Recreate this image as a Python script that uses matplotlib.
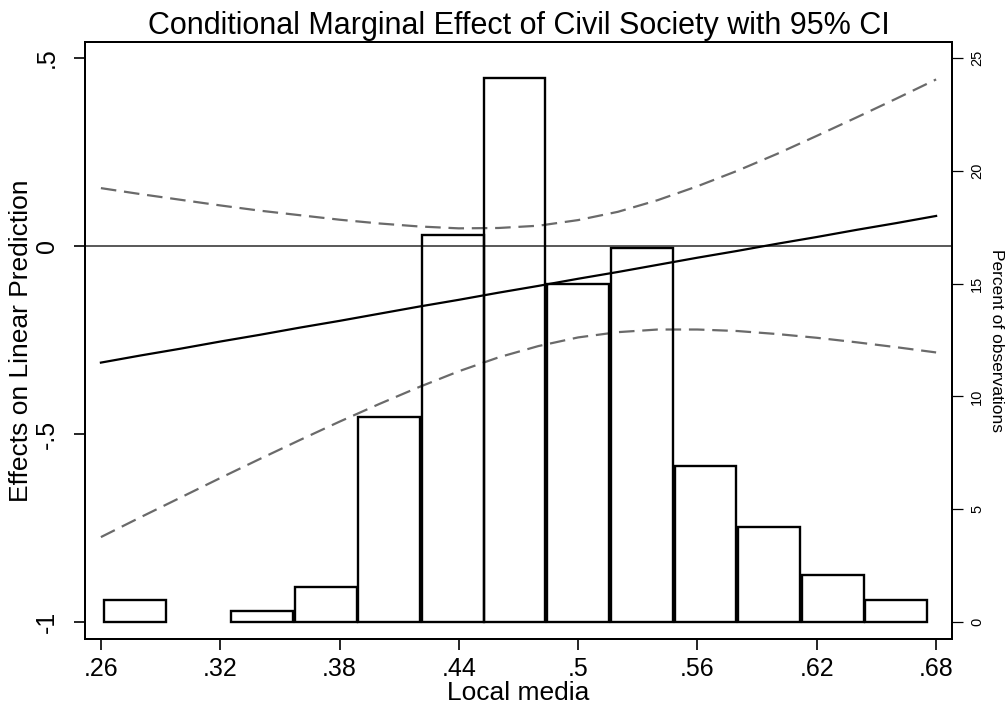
import numpy as np
import matplotlib
matplotlib.use('Agg')
import matplotlib.pyplot as plt

plt.rcParams['font.family'] = ['Liberation Sans', 'DejaVu Sans']

# values
media = [0.26, 0.28, 0.30, 0.32, 0.34, 0.36, 0.38, 0.40, 0.42, 0.44, 0.46,
         0.48, 0.50, 0.52, 0.54, 0.56, 0.58, 0.60, 0.62, 0.64, 0.66, 0.68]
effect = [-0.310, -0.291, -0.273, -0.254, -0.236, -0.217, -0.199, -0.180,
          -0.161, -0.143, -0.124, -0.106, -0.087, -0.069, -0.050, -0.031,
          -0.013, 0.006, 0.024, 0.043, 0.061, 0.080]
ci_hi = [0.154, 0.138, 0.123, 0.108, 0.094, 0.082, 0.070, 0.060, 0.052,
         0.047, 0.048, 0.054, 0.069, 0.091, 0.122, 0.159, 0.200, 0.245,
         0.293, 0.342, 0.392, 0.443]
ci_lo = [-0.774, -0.721, -0.669, -0.617, -0.566, -0.516, -0.467, -0.420,
         -0.375, -0.333, -0.296, -0.266, -0.243, -0.229, -0.222, -0.222,
         -0.226, -0.234, -0.244, -0.256, -0.269, -0.283]

# histogram of local media (percent of observations)
bin_mid = [0.277, 0.309, 0.341, 0.373, 0.405, 0.437, 0.468, 0.500, 0.532,
           0.564, 0.596, 0.628, 0.660]
bin_pct = [1.0, 0.0, 0.47, 1.55, 9.07, 17.14, 24.13, 14.98, 16.6, 6.91,
           4.22, 2.1, 1.0]
bin_w = 0.0319

fig = plt.figure(figsize=(10.07, 7.05), dpi=100)
ax = fig.add_axes([0.0844, 0.0936, 0.861, 0.8468])
ax2 = ax.twinx()

# bars (unfilled, like stata)
mids = np.array(bin_mid)
pct = np.array(bin_pct)
keep = pct > 0
ax2.bar(mids[keep], pct[keep], width=bin_w * 0.975, fill=False,
        edgecolor='black', linewidth=1.7, zorder=1)

ax.axhline(0, color='#3c3c3c', linewidth=1.2, zorder=2)
ax.plot(media, ci_hi, color='#6a6a6a', linewidth=1.6, dashes=(7, 3.5), zorder=3)
ax.plot(media, ci_lo, color='#6a6a6a', linewidth=1.6, dashes=(7, 3.5), zorder=3)
ax.plot(media, effect, color='black', linewidth=1.6, zorder=4)

ax.set_xlim(0.252, 0.688)
ax.set_ylim(-1.045, 0.5425)
ax2.set_ylim(-0.75, 25.71)

ax.set_xticks([0.26, 0.32, 0.38, 0.44, 0.50, 0.56, 0.62, 0.68])
ax.set_xticklabels(['.26', '.32', '.38', '.44', '.5', '.56', '.62', '.68'],
                   fontsize=18)
ax.set_yticks([-1, -0.5, 0, 0.5])
ax.set_yticklabels(['-1', '-.5', '0', '.5'], fontsize=18, rotation=90,
                   va='center')
ax.tick_params(axis='both', length=8, width=1.2, direction='out')
ax.tick_params(axis='x', pad=5)
ax.tick_params(axis='y', pad=11)

ax2.set_yticks([0, 5, 10, 15, 20, 25])
ax2.set_yticklabels(['0', '5', '10', '15', '20', '25'], fontsize=10.5,
                    rotation=90, va='center')
ax2.tick_params(axis='y', length=8, width=0.9, direction='out', pad=5)

for a in (ax, ax2):
    for s in a.spines.values():
        s.set_linewidth(1.4)

ax.set_xlabel('Local media', fontsize=19, labelpad=0)
ax.set_ylabel('Effects on Linear Prediction', fontsize=19, labelpad=1)
ax2.set_ylabel('Percent of observations', fontsize=12.5, rotation=-90,
               labelpad=14)
ax.set_title('Conditional Marginal Effect of Civil Society with 95% CI',
             fontsize=22, pad=6)

fig.savefig('out.png', dpi=100)
